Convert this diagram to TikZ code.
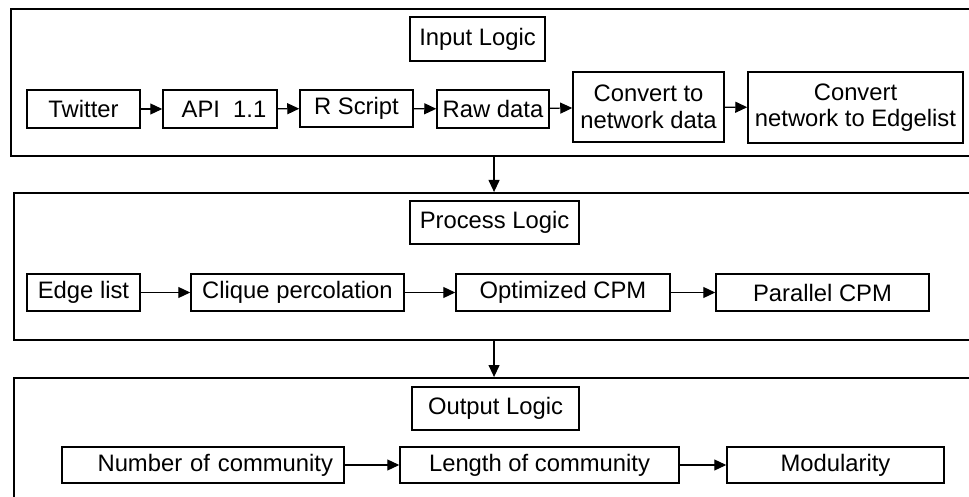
\documentclass[tikz,border=0pt]{standalone}
\usepackage{fontspec}
\setmainfont{Liberation Sans}
\usetikzlibrary{arrows.meta}
\begin{document}
\begin{tikzpicture}[x=1pt,y=-1pt,
  font=\fontsize{23.8}{26.5}\selectfont,
  panel/.style={draw, line width=2.1pt, inner sep=0pt, anchor=north west},
  stage/.style={draw, line width=1.5pt, inner sep=0pt, align=center},
  flow/.style={line width=1.2pt, -{Triangle[length=12pt,width=11pt]}}]
\useasboundingbox (0,0) rectangle (969,497);

% three logic panels (open on the right and at the bottom)
\node[panel, minimum width=966pt, minimum height=147pt] (p1) at (10,8) {};
\node[panel, minimum width=960pt, minimum height=147pt] (p2) at (13,192) {};
\node[panel, minimum width=960pt, minimum height=140pt] (p3) at (13,377) {};

% input logic
\node[stage, minimum width=135pt, minimum height=44pt] (inl) at (477.5,39) {Input Logic};
\node[stage, minimum width=113pt, minimum height=38pt] (tw) at (83.5,109) {Twitter};
\node[stage, minimum width=114pt, minimum height=38pt] (api) at (220,109) {\hspace{8pt}API\ \ 1.1};
\node[stage, minimum width=113pt, minimum height=37pt] (rs) at (356.5,108.5) {\raisebox{2pt}{R Script}};
\node[stage, minimum width=112pt, minimum height=38pt] (raw) at (493,109) {Raw data};
\node[stage, minimum width=151pt, minimum height=70pt] (cnd) at (648.5,107) {Convert to\\network data};
\node[stage, minimum width=215pt, minimum height=71pt] (cne) at (855.5,107.5) {Convert\\network to Edgelist};

% process logic
\node[stage, minimum width=169pt, minimum height=43pt] (prl) at (494.5,222.5) {Process Logic};
\node[stage, minimum width=113pt, minimum height=37pt] (el) at (83.5,292.5) {Edge list};
\node[stage, minimum width=213pt, minimum height=37pt] (cp) at (297.5,292.5) {Clique percolation};
\node[stage, minimum width=214pt, minimum height=37pt] (oc) at (563,292.5) {Optimized CPM};
\node[stage, minimum width=213pt, minimum height=37pt] (pc) at (822.5,292.5) {Parallel CPM};

% output logic
\node[stage, minimum width=167pt, minimum height=43pt] (oul) at (495.5,408.5) {Output Logic};
\node[stage, minimum width=282pt, minimum height=36pt, text width=260pt, align=right] (nc) at (203,465) {Number of community};
\node[stage, minimum width=279pt, minimum height=36pt] (lc) at (539.5,465) {Length of community};
\node[stage, minimum width=217pt, minimum height=36pt] (mod) at (835.5,465) {Modularity};

% connectors
\draw[flow] (tw) -- (api);
\draw[flow] (api) -- (rs);
\draw[flow] (rs) -- (raw);
\draw[flow] (raw) -- (cnd);
\draw[flow] (cnd) -- (cne);
\draw[flow] (el) -- (cp);
\draw[flow] (cp) -- (oc);
\draw[flow] (oc) -- (pc);
\draw[flow] (nc) -- (lc);
\draw[flow] (lc) -- (mod);
\draw[flow] (p1.south) -- (p2.north);
\draw[flow] (p2.south) -- (p3.north);
\end{tikzpicture}
\end{document}
